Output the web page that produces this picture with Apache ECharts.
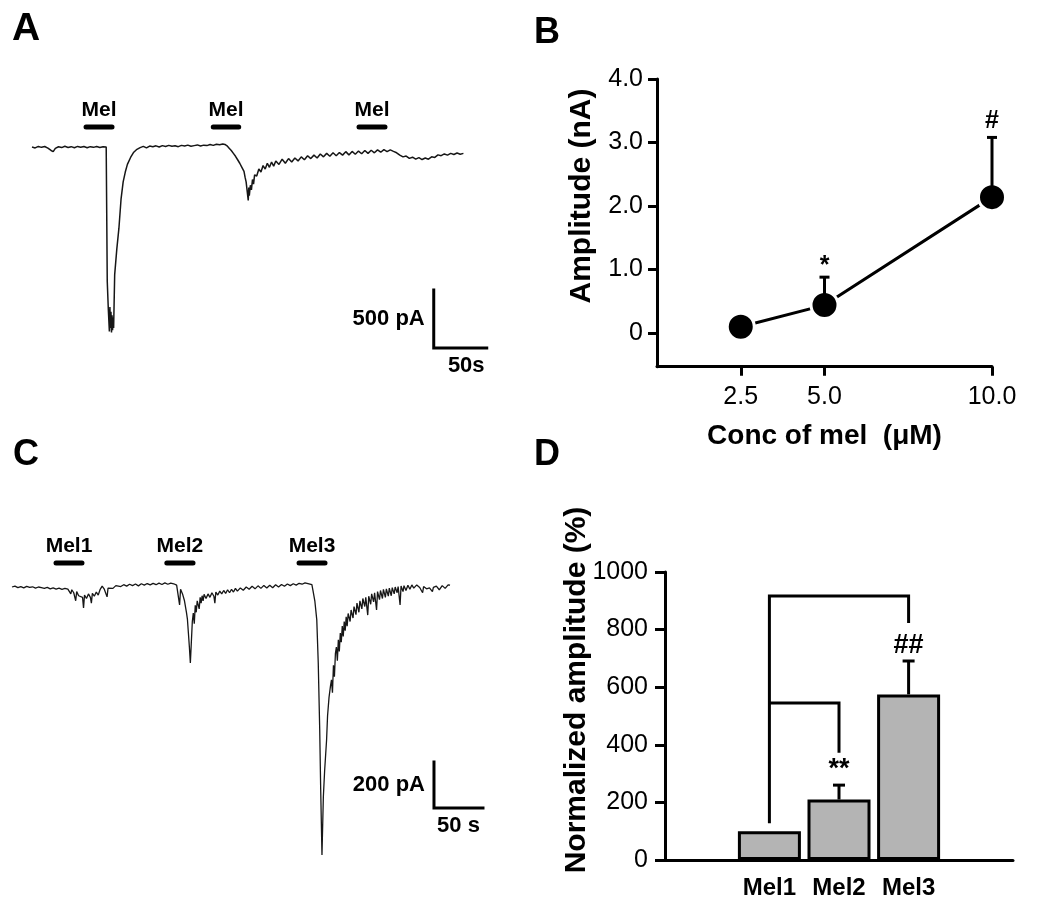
<!DOCTYPE html>
<html><head><meta charset="utf-8">
<script src="https://cdn.jsdelivr.net/npm/echarts@6/dist/echarts.min.js"></script>
<style>html,body{margin:0;padding:0;background:#fff}#c{width:1050px;height:914px}</style>
</head><body><div id="c"></div><script>
const FONT = '"Liberation Sans", Arial, Helvetica, sans-serif';

// ---------- Panel A: whole-cell current trace [time (s), current (pA)] ----------
const traceA = [
[0,0],[3,-8],[6,5],[9,-3],[12,4],[15,-10],[18,-30],[20,-40],[22,-12],[25,2],[28,-5],[31,6],[34,-4],[37,3],[40,-6],[43,5],[46,-2],[49,4],[52,-7],[55,3],[58,-3],[61,5],[64,-4],[67,2],[70,0],[70.6,-5],
[71,-1160],[72,-1400],[73,-1590],[73.5,-1380],[74,-1560],[74.5,-1420],[75,-1600],[75.5,-1450],[76,-1580],[76.5,-1470],[77,-1560],[78,-1100],[80,-880],[82,-700],[84,-450],[86,-300],[88,-216],[90,-150],[93,-90],[96,-45],[99,-20],[102,-5],
[105,5],[108,-8],[111,8],[114,2],[117,10],[120,0],[123,12],[126,4],[129,14],[132,6],[135,10],[138,3],[141,14],[144,8],[147,16],[150,6],[153,12],[156,18],[159,8],[162,16],[165,12],[168,22],[171,14],[174,24],[177,20],[180,26],[182,22],[184,10],
[186,-10],[188,-30],[190,-55],[192,-80],[194,-110],[196,-140],[198,-175],[200,-210],[201,-260],[202,-300],[203,-380],[204,-460],[204.5,-350],[205,-420],[206,-330],[207,-370],[208,-280],[209,-320],[210,-240],
[212,-250],[214,-190],[216,-215],[218,-160],[220,-190],[222,-140],[224,-175],[226,-130],[228,-165],[230,-120],[233,-150],[236,-105],[239,-140],[242,-100],[245,-130],
[248,-95],[251,-120],[254,-85],[257,-110],[260,-75],[263,-100],[266,-70],[269,-95],[272,-60],[275,-85],[278,-55],[281,-80],
[284,-50],[287,-75],[290,-48],[293,-70],[296,-40],[299,-68],[302,-38],[305,-62],[308,-35],[311,-58],[314,-30],[317,-55],[320,-28],[323,-50],[326,-25],[329,-45],[332,-22],[335,-40],[338,-25],[341,-38],
[344,-50],[347,-70],[350,-85],[353,-78],[356,-98],[359,-88],[362,-105],[365,-92],[368,-108],[371,-95],[374,-105],[377,-85],[380,-90],[383,-68],[386,-75],[389,-60],[392,-70],[395,-55],[398,-65],[401,-52],[404,-62],[407,-55]
];
const melA = [[51,75.5],[171,195],[308.5,333]];          // application periods (s)
const melALabels = ['Mel','Mel','Mel'];
const scaleA = {t0: 379, pA0: -1733, dt: 50, dpA: 500, tLabel: '50s', pLabel: '500 pA'};

// ---------- Panel B: amplitude vs concentration ----------
const bConc = [2.5, 5.0, 10.0];
const bAmp  = [0.10, 0.44, 2.14];
const bSem  = [0.08, 0.44, 0.94];
const bSig  = ['', '*', '#'];
const bYTicks = [0, 1, 2, 3, 4];
const bXTicks = [2.5, 5, 10];

// ---------- Panel C: trace with three applications ----------
const traceC = [
[0,0],[3,4],[6,-3],[9,2],[12,-4],[15,3],[18,-2],[21,1],[24,-5],[27,0],[30,-3],[33,-6],[36,-2],[39,-8],[42,-4],[45,-9],[48,-5],[51,-10],[54,-6],[57,-9],
[59,-14],[60,-30],[61,-12],[63,-25],[65,-60],[66,-20],[68,-38],[70,-30],[72,-45],[73,-91],[74,-35],[76,-50],[78,-30],[80,-45],[81,-70],[82,-28],[84,-40],[86,-22],[88,-35],[90,-10],[92,4],[94,-8],[96,0],[97,-43],[98,-5],
[100,2],[103,-6],[106,6],[108,9],[111,2],[114,10],[117,4],[120,12],[123,6],[126,13],[129,5],[132,14],[135,8],[138,15],[141,9],[144,16],[147,10],[150,17],[153,11],[156,18],[159,12],[162,17],[165,14],[168,8],
[170,0],[171,-78],[172,-10],[174,-30],[176,-60],[178,-110],[179,-140],[180,-200],[181,-261],[182,-330],[183,-240],[184,-150],[185,-113],[186,-160],[187,-80],[188,-110],[189,-60],[190,-57],[191,-95],[192,-45],[193,-70],[194,-38],[195,-60],[196,-32],[198,-50],
[200,-30],[202,-45],[204,-25],[206,-40],[207,-70],[208,-22],[210,-35],[212,-18],[214,-30],[216,-15],[218,-28],[220,-12],[222,-25],[224,-10],[226,-22],[228,-6],[230,-18],[233,-4],[236,-14],[239,0],[242,-10],[245,3],[248,-8],
[251,5],[254,-6],[257,7],[260,-4],[263,8],[266,-3],[269,10],[272,0],[275,11],[278,3],[281,13],[284,6],[287,14],[290,8],[293,16],[296,12],[299,18],[302,15],[304,22],[306,10],
[307,-13],[309,-60],[311,-143],[312.5,-330],[314,-622],[315,-880],[316.3,-1165],[317.7,-913],[319,-800],[321,-665],[322,-560],[323.5,-480],[325,-430],[326,-404],[327,-460],[328,-340],[329,-390],[330,-290],[331,-261],[332,-320],[333,-230],[334,-280],[335,-200],[336,-240],[337,-170],[338,-215],[339,-150],[340,-190],
[341,-130],[342,-170],[343,-115],[345,-150],[346,-100],[348,-135],[349,-85],[351,-120],[352,-70],[354,-110],[355,-60],[357,-95],[358,-50],[360,-85],[361,-45],[363,-122],[364,-40],[366,-75],[367,-30],[369,-65],[370,-25],[372,-100],[373,-20],
[375,-55],[376,-15],[378,-50],[379,-10],[381,-45],[382,-8],[384,-40],[385,-5],[387,-38],[388,-3],[390,-30],[391,0],[393,-25],[394,2],[396,-78],[397,4],[399,-20],[400,6],[402,-15],[404,8],[406,-10],[408,9],[410,-5],[413,9],[416,-2],[419,-25],[420,2],
[423,-8],[426,-4],[429,-20],[430,-2],[433,4],[436,-12],[439,6],[442,-6],[445,9],[447,8]
];
const melC = [[44.9,71.4],[158,184.7],[292.9,319.4]];
const melCLabels = ['Mel1','Mel2','Mel3'];
const scaleC = {t0: 430.6, pA0: -961, dt: 50, dpA: 200, tLabel: '50 s', pLabel: '200 pA'};

// ---------- Panel D: normalized amplitude ----------
const dCategories = ['Mel1', 'Mel2', 'Mel3'];
const dValues = [100, 210, 575];
const dSem    = [0, 50, 116];
const dSig    = ['', '**', '##'];
const dBrackets = [
  {from: 'Mel1', to: 'Mel3', start: 128, top: 917, end: 823},
  {from: 'Mel1', to: 'Mel2', start: 545, top: 545, end: 372}
];

// ================= build option =================
const black = '#000';
const traceColor = '#161616';
const dAxisData = [' ', ...dCategories, '  '];
const dIdx = c => dAxisData.indexOf(c);
const solid = {opacity: 1, color: black};

function hiddenAxis(gi, min, max) {
  return {type: 'value', gridIndex: gi, min, max, show: false, splitLine: {show: false}};
}
function melSeries(melArr, labels, level, xi) {
  const s = melArr.map(([a, b]) => ({
    type: 'line', xAxisIndex: xi, yAxisIndex: xi, data: [[a, level], [b, level]],
    symbol: 'none', lineStyle: {color: black, width: 5, cap: 'round'}, silent: true, z: 3
  }));
  s.push({
    type: 'scatter', xAxisIndex: xi, yAxisIndex: xi, symbolSize: 0, silent: true, z: 4, itemStyle: solid,
    data: melArr.map(([a, b], i) => ({value: [(a + b) / 2, level], label: {formatter: labels[i]}})),
    label: {show: true, position: 'top', distance: 6, color: black, fontFamily: FONT, fontWeight: 'bold', fontSize: 21}
  });
  return s;
}
function scaleSeries(sc, xi, tOffset) {
  return [{
    type: 'line', xAxisIndex: xi, yAxisIndex: xi, symbol: 'none', silent: true,
    data: [[sc.t0, sc.pA0 + sc.dpA], [sc.t0, sc.pA0], [sc.t0 + sc.dt, sc.pA0]],
    lineStyle: {color: black, width: 3, join: 'miter', cap: 'square'}
  }, {
    type: 'scatter', xAxisIndex: xi, yAxisIndex: xi, symbolSize: 0, silent: true, itemStyle: solid,
    label: {show: true, color: black, fontFamily: FONT, fontWeight: 'bold', fontSize: 22},
    data: [
      {value: [sc.t0, sc.pA0 + sc.dpA / 2], label: {formatter: sc.pLabel, position: 'left', distance: 9}},
      {value: [sc.t0 + sc.dt / 2, sc.pA0], label: {formatter: sc.tLabel, position: 'bottom', distance: 7, offset: [tOffset, 0]}}
    ]
  }];
}
function errRender(capHalf) {
  return function (params, api) {
    const x = api.value(0), y = api.value(1), e = api.value(2);
    if (!e) return null;
    const p0 = api.coord([x, y]), p1 = api.coord([x, y + e]);
    const st = {stroke: black, lineWidth: 3, fill: null};
    return {type: 'group', children: [
      {type: 'line', shape: {x1: p0[0], y1: p0[1], x2: p1[0], y2: p1[1]}, style: st},
      {type: 'line', shape: {x1: p1[0] - capHalf, y1: p1[1], x2: p1[0] + capHalf, y2: p1[1]}, style: st}
    ]};
  };
}
// asterisks sit high in the em box, so they need less lift than hashes
const sigDistance = s => (s.indexOf('*') >= 0 ? -1 : 4);
const axisLabelStyle = {color: black, fontFamily: FONT, fontSize: 25};
const axLine = {show: true, onZero: false, lineStyle: {color: black, width: 3}};

const option = {
  animation: false,
  backgroundColor: '#fff',
  textStyle: {fontFamily: FONT},
  grid: [
    {left: 32, top: 100.6, width: 455.8, height: 278.4, outerBoundsMode: 'none'},
    {left: 657, top: 79, width: 335, height: 287.7, outerBoundsMode: 'none'},
    {left: 12, top: 495, width: 475.3, height: 414, outerBoundsMode: 'none'},
    {left: 665, top: 572, width: 348, height: 288, outerBoundsMode: 'none'}
  ],
  xAxis: [
    hiddenAxis(0, 0, 430),
    {type: 'value', gridIndex: 1, min: 0, max: 10, splitLine: {show: false},
     axisLine: axLine, axisTick: {show: true, length: 9, lineStyle: {color: black, width: 3}, customValues: bXTicks},
     axisLabel: Object.assign({margin: 18, customValues: bXTicks, formatter: v => v.toFixed(1)}, axisLabelStyle),
     name: 'Conc of mel  (\u03BCM)', nameLocation: 'middle', nameGap: 56,
     nameTextStyle: {color: black, fontFamily: FONT, fontWeight: 'bold', fontSize: 28}},
    hiddenAxis(2, 0, 485),
    {type: 'category', gridIndex: 3, data: dAxisData, boundaryGap: true,
     axisLine: axLine, axisTick: {show: false},
     axisLabel: {margin: 16, color: black, fontFamily: FONT, fontWeight: 'bold', fontSize: 24, interval: 0}}
  ],
  yAxis: [
    hiddenAxis(0, -2000, 400),
    {type: 'value', gridIndex: 1, min: -0.53, max: 4, splitLine: {show: false},
     axisLine: axLine, axisTick: {show: true, length: 9, lineStyle: {color: black, width: 3}, customValues: bYTicks},
     axisLabel: Object.assign({margin: 14, customValues: bYTicks, formatter: v => v === 0 ? '0' : v.toFixed(1)}, axisLabelStyle)},
    hiddenAxis(2, -1400, 400),
    {type: 'value', gridIndex: 3, min: 0, max: 1000, interval: 200, splitLine: {show: false},
     axisLine: axLine, axisTick: {show: true, length: 10, lineStyle: {color: black, width: 3}},
     axisLabel: Object.assign({margin: 17, formatter: v => String(v)}, axisLabelStyle)}
  ],
  graphic: [
    {type: 'text', left: 12, top: 10, style: {text: 'A', font: 'bold 39px ' + FONT, fill: black}},
    {type: 'text', left: 534, top: 15, style: {text: 'B', font: 'bold 36px ' + FONT, fill: black}},
    {type: 'text', left: 13, top: 437, style: {text: 'C', font: 'bold 36px ' + FONT, fill: black}},
    {type: 'text', left: 534, top: 437, style: {text: 'D', font: 'bold 36px ' + FONT, fill: black}},
    {type: 'text', x: 582, y: 196, rotation: Math.PI / 2,
     style: {text: 'Amplitude (nA)', font: 'bold 30px ' + FONT, fill: black, align: 'center', verticalAlign: 'middle'}},
    {type: 'text', x: 577, y: 690, rotation: Math.PI / 2,
     style: {text: 'Normalized amplitude (%)', font: 'bold 30px ' + FONT, fill: black, align: 'center', verticalAlign: 'middle'}}
  ],
  series: [
    // Panel A
    {type: 'line', xAxisIndex: 0, yAxisIndex: 0, data: traceA, symbol: 'none', silent: true,
     lineStyle: {color: traceColor, width: 1.5}},
    ...melSeries(melA, melALabels, 172, 0),
    ...scaleSeries(scaleA, 0, 6),
    // Panel B
    {type: 'line', xAxisIndex: 1, yAxisIndex: 1, data: bConc.map((c, i) => [c, bAmp[i]]),
     symbol: 'circle', symbolSize: 27, z: 3,
     itemStyle: {color: black, borderColor: '#fff', borderWidth: 3},
     lineStyle: {color: black, width: 3}},
    {type: 'custom', xAxisIndex: 1, yAxisIndex: 1, z: 5, renderItem: errRender(5),
     data: bConc.map((c, i) => [c, bAmp[i], bSem[i]])},
    {type: 'scatter', xAxisIndex: 1, yAxisIndex: 1, symbolSize: 0, z: 6, silent: true, itemStyle: solid,
     data: bConc.map((c, i) => ({value: [c, bAmp[i] + bSem[i]], label: {formatter: bSig[i], distance: sigDistance(bSig[i])}})),
     label: {show: true, position: 'top', color: black, fontFamily: FONT, fontWeight: 'bold', fontSize: 25}},
    // Panel C
    {type: 'line', xAxisIndex: 2, yAxisIndex: 2, data: traceC, symbol: 'none', silent: true,
     lineStyle: {color: traceColor, width: 1.3}},
    ...melSeries(melC, melCLabels, 104, 2),
    ...scaleSeries(scaleC, 2, 0),
    // Panel D
    {type: 'bar', xAxisIndex: 3, yAxisIndex: 3, barWidth: 63,
     data: dAxisData.map(c => { const i = dCategories.indexOf(c); return i < 0 ? '-' : dValues[i]; }),
     itemStyle: {color: '#b4b4b4', borderColor: black, borderWidth: 3}},
    {type: 'custom', xAxisIndex: 3, yAxisIndex: 3, z: 5, renderItem: errRender(6),
     data: dCategories.map((c, i) => [dIdx(c), dValues[i], dSem[i]])},
    ...dBrackets.map(b => ({
      type: 'line', xAxisIndex: 3, yAxisIndex: 3, symbol: 'none', silent: true, z: 4,
      data: [[dIdx(b.from), b.start], [dIdx(b.from), b.top], [dIdx(b.to), b.top], [dIdx(b.to), b.end]],
      lineStyle: {color: black, width: 3, join: 'miter'}
    })),
    {type: 'scatter', xAxisIndex: 3, yAxisIndex: 3, symbolSize: 0, z: 6, silent: true, itemStyle: solid,
     data: dCategories.map((c, i) => ({value: [dIdx(c), dValues[i] + dSem[i]], label: {formatter: dSig[i]}})),
     label: {show: true, position: 'top', distance: 2, color: black, fontFamily: FONT, fontWeight: 'bold', fontSize: 27}}
  ]
};
const chart = echarts.init(document.getElementById('c'), null, {renderer: 'canvas'});
chart.setOption(option);
</script></body></html>
